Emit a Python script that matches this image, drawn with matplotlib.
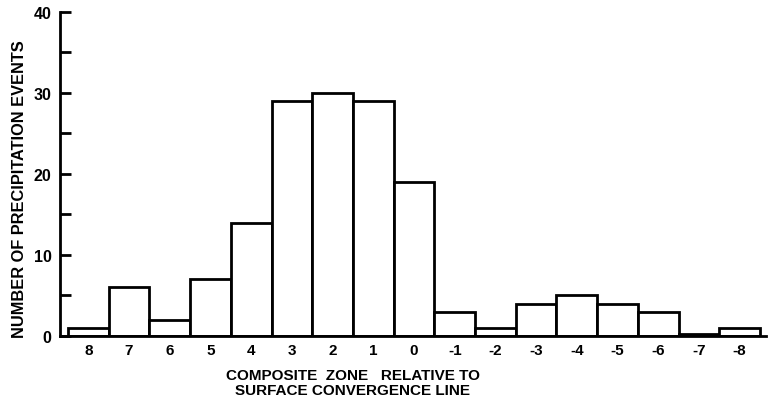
import matplotlib
matplotlib.use("Agg")
import matplotlib.pyplot as plt
from matplotlib.ticker import MultipleLocator

# Composite zone (relative to the surface convergence line) and event counts
zones = ["8", "7", "6", "5", "4", "3", "2", "1", "0",
         "-1", "-2", "-3", "-4", "-5", "-6", "-7", "-8"]
events = [1, 6, 2, 7, 14, 29, 30, 29, 19, 3, 1, 4, 5, 4, 3, 0.3, 1]

y_ticks = [0, 10, 20, 30, 40]

plt.rcParams["font.family"] = ["Liberation Sans", "DejaVu Sans"]
plt.rcParams["font.weight"] = "bold"

fig = plt.figure(figsize=(7.7, 4.02), dpi=100)
ax = fig.add_axes([0.0779, 0.1617, 0.917, 0.806])

pos = list(range(len(zones)))
ax.bar(pos, events, width=1.0, facecolor="white", edgecolor="black",
       linewidth=2.0, zorder=2)

ax.set_xlim(-0.697, 16.65)
ax.set_ylim(0, 40)
ax.set_xticks(pos)
ax.set_xticklabels(zones, fontsize=11, fontweight="bold")
ax.tick_params(axis="x", length=0, pad=5)

ax.set_yticks(y_ticks)
ax.set_yticklabels([str(v) for v in y_ticks], fontsize=11.5, fontweight="bold")
ax.yaxis.set_minor_locator(MultipleLocator(5))
ax.tick_params(axis="y", which="both", direction="in", length=8, width=2, pad=6)

for side in ("top", "right"):
    ax.spines[side].set_visible(False)
for side in ("left", "bottom"):
    ax.spines[side].set_linewidth(2)

fig.text(0.458, 0.0647, "COMPOSITE  ZONE   RELATIVE TO",
         ha="center", va="center", fontsize=11, fontweight="bold")
fig.text(0.458, 0.0274, "SURFACE CONVERGENCE LINE",
         ha="center", va="center", fontsize=11, fontweight="bold")
fig.text(0.0253, 0.53, "NUMBER OF PRECIPITATION EVENTS", rotation=90,
         ha="center", va="center", fontsize=11.8, fontweight="bold")

fig.savefig("out.png", dpi=100)
